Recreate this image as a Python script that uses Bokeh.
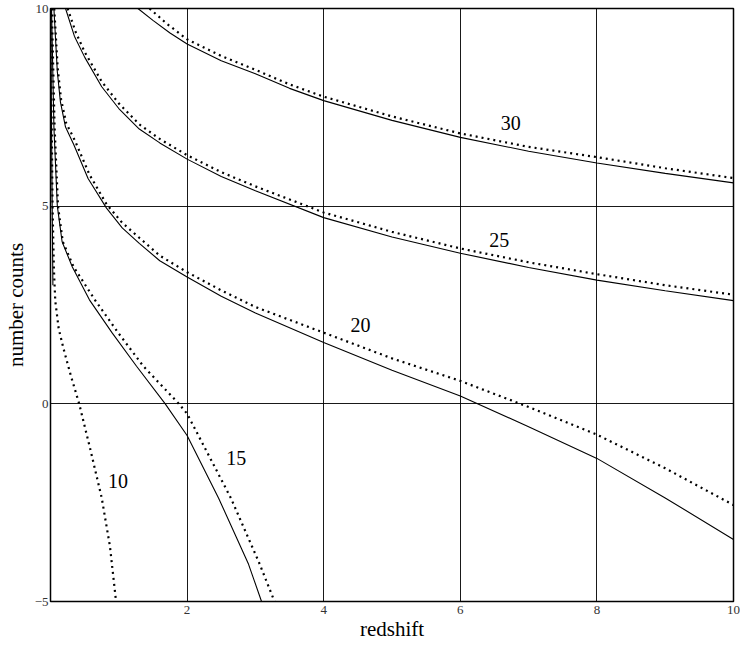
from bokeh.core.properties import value
from bokeh.embed import file_html
from bokeh.models import FixedTicker, Range1d
from bokeh.plotting import figure
from bokeh.resources import INLINE

# curves (redshift, number counts)
x10_dot = [0.005, 0.01, 0.03, 0.05, 0.07, 0.12, 0.19, 0.3, 0.42, 0.58, 0.75, 0.87, 0.96]
y10_dot = [10.0, 8.5, 5.0, 3.4, 2.6, 1.9, 1.4, 0.7, 0.0, -1.13, -2.38, -3.6, -5.0]
x10_sol = [0.005, 0.015, 0.025, 0.035]
y10_sol = [10.0, 7.0, 5.0, 3.0]

x15_sol = [0.015, 0.05, 0.1, 0.17, 0.32, 0.57, 0.9, 1.26, 1.68, 2.0, 2.46, 2.9, 3.09]
y15_sol = [10.0, 7.0, 5.0, 4.1, 3.46, 2.63, 1.8, 0.95, 0.0, -0.8, -2.38, -4.06, -5.0]
x15_dot = [0.02, 0.06, 0.11, 0.18, 0.34, 0.65, 0.99, 1.36, 1.88, 2.0, 2.64, 3.05, 3.28]
y15_dot = [10.0, 7.0, 5.0, 4.1, 3.46, 2.63, 1.8, 0.95, 0.0, -0.25, -2.38, -4.0, -5.0]

x20_sol = [0.05, 0.1, 0.145, 0.22, 0.34, 0.55, 0.82, 1.05, 1.3, 1.6, 2, 2.5, 3, 4, 5, 6, 7, 8, 9, 10]
y20_sol = [10.0, 8.4, 7.64, 7.0, 6.56, 5.7, 4.95, 4.45, 4.06, 3.62, 3.21, 2.72, 2.3, 1.55, 0.85, 0.2, -0.58, -1.38, -2.38, -3.43]
x20_dot = [0.055, 0.105, 0.155, 0.23, 0.36, 0.57, 0.82, 1.05, 1.3, 1.6, 2, 2.5, 3, 4, 5, 6, 7, 8, 9, 10]
y20_dot = [10.0, 8.5, 7.7, 7.1, 6.65, 5.8, 5.05, 4.58, 4.2, 3.75, 3.33, 2.87, 2.45, 1.8, 1.15, 0.58, -0.08, -0.78, -1.63, -2.56]

x25_sol = [0.22, 0.35, 0.5, 0.75, 1, 1.3, 1.6, 2, 2.5, 3, 4, 5, 6, 7, 8, 9, 10]
y25_sol = [10.0, 9.3, 8.77, 8.02, 7.47, 6.95, 6.6, 6.19, 5.75, 5.39, 4.71, 4.22, 3.81, 3.45, 3.13, 2.86, 2.61]
x25_dot = [0.25, 0.37, 0.5, 0.75, 1, 1.3, 1.6, 2, 2.5, 3, 4, 5, 6, 7, 8, 9, 10]
y25_dot = [10.0, 9.4, 8.9, 8.15, 7.6, 7.07, 6.7, 6.29, 5.86, 5.5, 4.84, 4.35, 3.93, 3.58, 3.28, 3.0, 2.76]

x30_sol = [1.28, 1.5, 1.75, 2, 2.5, 3, 3.5, 4, 5, 6, 7, 8, 9, 10]
y30_sol = [10.0, 9.7, 9.38, 9.1, 8.68, 8.35, 7.98, 7.67, 7.17, 6.74, 6.39, 6.09, 5.83, 5.59]
x30_dot = [1.45, 1.7, 2, 2.5, 3, 3.5, 4, 5, 6, 7, 8, 9, 10]
y30_dot = [10.0, 9.62, 9.22, 8.8, 8.45, 8.08, 7.77, 7.27, 6.84, 6.5, 6.24, 5.96, 5.71]

label_x = [6.74, 6.57, 4.54, 2.72, 0.99]
label_y = [7.1, 4.14, 2.0, -1.38, -1.95]
label_text = ["30", "25", "20", "15", "10"]

x_ticks = [2, 4, 6, 8, 10]
y_ticks = [-5, 0, 5, 10]

SERIF = "Liberation Serif"

p = figure(
    width=740,
    height=643,
    output_backend="svg",
    toolbar_location=None,
    x_range=Range1d(0, 10),
    y_range=Range1d(-5, 10),
    min_border_left=48,
    min_border_right=7,
    min_border_top=8,
    min_border_bottom=20,
    x_axis_label="redshift",
    y_axis_label="number counts",
)

# solid and dotted pairs
solids = [(x10_sol, y10_sol), (x15_sol, y15_sol), (x20_sol, y20_sol),
          (x25_sol, y25_sol), (x30_sol, y30_sol)]
dots = [(x10_dot, y10_dot), (x15_dot, y15_dot), (x20_dot, y20_dot),
        (x25_dot, y25_dot), (x30_dot, y30_dot)]
for xs, ys in solids:
    p.line(xs, ys, line_width=1.1, color="black")
for xs, ys in dots:
    p.line(xs, ys, line_width=2.2, color="black", line_dash="2 4")

p.text(label_x, label_y, text=label_text, text_font=value(SERIF),
       text_font_size="20px", text_align="center", text_baseline="middle",
       color="black")

p.xaxis.ticker = FixedTicker(ticks=x_ticks)
p.yaxis.ticker = FixedTicker(ticks=y_ticks)
for ax in (p.xaxis, p.yaxis):
    ax.major_tick_line_color = None
    ax.minor_tick_line_color = None
    ax.major_tick_in = 0
    ax.major_tick_out = 0
    ax.axis_line_color = "black"
    ax.major_label_text_font = SERIF
    ax.major_label_text_font_size = "13px"
    ax.major_label_text_color = "#333333"
    ax.axis_label_text_font = SERIF
    ax.axis_label_text_font_size = "21px"
    ax.axis_label_text_font_style = "normal"
    ax.axis_label_text_color = "black"
p.xaxis.axis_label_standoff = 0
p.yaxis.axis_label_standoff = 4
p.xaxis.major_label_standoff = 4
p.yaxis.major_label_standoff = 2

p.grid.grid_line_color = "black"
p.grid.grid_line_alpha = 0.9
p.grid.grid_line_width = 1
p.outline_line_color = "black"
p.outline_line_width = 1.5
p.background_fill_color = "white"
p.border_fill_color = "white"

open("out.html", "w").write(file_html(p, INLINE))
